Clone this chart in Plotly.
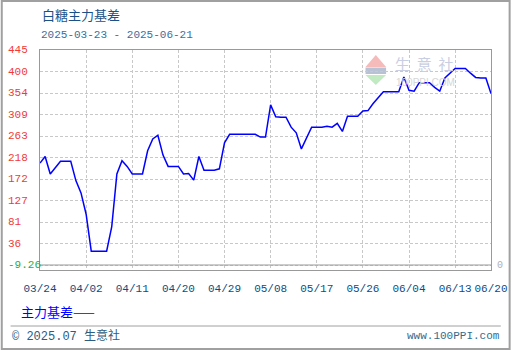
import plotly.graph_objects as go
import pandas as pd

# ---------------- data ----------------
title_text = "白糖主力基差"
range_text = "2025-03-23 - 2025-06-21"
start_date = "2025-03-24"
end_date = "2025-06-20"
basis = [206, 220, 183, 196, 210, 210, 210, 169, 143, 98,
         20, 20, 20, 20, 72, 183, 211, 199, 183, 183,
         183, 232, 257, 265, 223, 199, 199, 199, 183, 184,
         170, 220, 191, 191, 191, 194, 249, 267, 267, 267,
         267, 267, 267, 261, 261, 329, 304, 303, 303, 282,
         270, 236, 258, 282, 282, 282, 284, 282, 290, 273,
         305, 305, 305, 316, 317, 332, 345, 357, 357, 357,
         357, 388, 360, 358, 376, 376, 376, 366, 358, 386,
         395, 406, 406, 406, 396, 387, 386, 386, 353]
x_tick_dates = ["2025-03-24", "2025-04-02", "2025-04-11", "2025-04-20", "2025-04-29",
                "2025-05-08", "2025-05-17", "2025-05-26", "2025-06-04", "2025-06-13",
                "2025-06-20"]
x_tick_labels = ["03/24", "04/02", "04/11", "04/20", "04/29", "05/08", "05/17",
                 "05/26", "06/04", "06/13", "06/20"]
y_min = -9.26
y_max = 445.0
y_tick_labels = ["-9.26", "36", "81", "127", "172", "218", "263", "309", "354", "400", "445"]
legend_text = "主力基差——"
footer_left = "© 2025.07 生意社"
footer_right = "www.100PPI.com"
watermark_cn = "生\u00a0\u00a0意\u00a0\u00a0社"
watermark_en = "100PPI.COM"

dates = pd.date_range(start_date, end_date, freq="D")
step = (y_max - y_min) / (len(y_tick_labels) - 1)
y_tick_vals = [y_min + i * step for i in range(len(y_tick_labels))]

# ---------------- layout geometry ----------------
W, H = 520, 350
ML, MR, MT, MB = 40, 20, 50, 80
PW, PH = W - ML - MR, H - MT - MB
px_per_unit = (265 - 50) / (y_max - y_min)
y_lo = y_min - 5 / px_per_unit


def px(x):
    return (x - ML) / PW


def py(y):
    return (H - MB - y) / PH


fig = go.Figure()
fig.add_trace(go.Scatter(x=dates, y=basis, mode="lines",
                         line=dict(color="#0000ff", width=1.5),
                         hoverinfo="skip", showlegend=False))

grid = dict(showgrid=True, gridcolor="#c8c8c8", griddash="3px,2px", gridwidth=1)
fig.update_xaxes(type="date", range=[start_date, end_date], tickvals=x_tick_dates,
                 ticktext=x_tick_labels, ticks="outside", ticklen=8,
                 tickcolor="rgba(0,0,0,0)",
                 tickfont=dict(family="Liberation Mono", size=11, color="#0f4c81"),
                 showline=True, linecolor="#999999", linewidth=1, mirror=True,
                 zeroline=False, **grid)
fig.update_yaxes(range=[y_lo, y_max], tickvals=y_tick_vals, showticklabels=False,
                 showline=True, linecolor="#999999", linewidth=1, mirror=True,
                 zeroline=False, **grid)

ann = []
for v, t in zip(y_tick_vals, y_tick_labels):
    ann.append(dict(x=px(5), y=v, xref="paper", yref="y", text=t, showarrow=False,
                    xanchor="left", yanchor="middle",
                    font=dict(family="Liberation Mono", size=11,
                              color="#33aa33" if t.startswith("-") else "#f03a3a")))
ann.append(dict(x=px(504), y=y_min, xref="paper", yref="y", text="0", showarrow=False,
                xanchor="left", yanchor="middle",
                font=dict(family="Liberation Mono", size=10, color="#b0b0b0")))
ann.append(dict(x=px(40), y=py(15), xref="paper", yref="paper", text=title_text,
                showarrow=False, xanchor="left", yanchor="middle",
                font=dict(family="Noto Sans CJK SC", size=13, color="#1a5288")))
ann.append(dict(x=px(39), y=py(35), xref="paper", yref="paper", text=range_text,
                showarrow=False, xanchor="left", yanchor="middle",
                font=dict(family="Liberation Mono", size=11, color="#3b6e9c")))
ann.append(dict(x=px(19), y=py(311), xref="paper", yref="paper", text=legend_text,
                showarrow=False, xanchor="left", yanchor="middle",
                font=dict(family="Noto Sans CJK SC", size=13, color="#0000ff")))
ann.append(dict(x=px(9), y=py(336), xref="paper", yref="paper", text=footer_left,
                showarrow=False, xanchor="left", yanchor="middle",
                font=dict(family="Liberation Mono, Noto Sans CJK SC", size=12, color="#2b5d80")))
ann.append(dict(x=px(511), y=py(336), xref="paper", yref="paper", text=footer_right,
                showarrow=False, xanchor="right", yanchor="middle",
                font=dict(family="Liberation Mono", size=11, color="#336b8c")))
# watermark text
ann.append(dict(x=px(400), y=py(64), xref="paper", yref="paper", text=watermark_cn,
                showarrow=False, xanchor="left", yanchor="middle",
                font=dict(family="Noto Sans CJK SC", size=15, color="#c9cee2")))
ann.append(dict(x=px(401), y=py(82.5), xref="paper", yref="paper", text=watermark_en,
                showarrow=False, xanchor="left", yanchor="middle",
                font=dict(family="Liberation Sans", size=10, color="#d6d6d6")))

shapes = []
# solid baseline at min value
shapes.append(dict(type="line", xref="paper", yref="y", x0=0, x1=1, y0=y_min, y1=y_min,
                   line=dict(color="#999999", width=1)))
# separator and outer border
shapes.append(dict(type="line", xref="paper", yref="paper", x0=px(10), x1=px(510),
                   y0=py(326), y1=py(326), line=dict(color="#a0a0a0", width=1)))
shapes.append(dict(type="rect", xref="paper", yref="paper", x0=px(1), x1=px(519),
                   y0=py(1), y1=py(349), line=dict(color="#a0a0a0", width=2)))


def path(points):
    return "M " + " L ".join(f"{px(a):.4f},{py(b):.4f}" for a, b in points) + " Z"


shapes.append(dict(type="path", xref="paper", yref="paper", layer="below",
                   path=path([(372, 67), (382.5, 55), (393, 67)]),
                   fillcolor="#f5baba", line=dict(width=0)))
shapes.append(dict(type="rect", xref="paper", yref="paper", layer="below",
                   x0=px(372), x1=px(393), y0=py(67.5), y1=py(74),
                   fillcolor="#b9c2d4", line=dict(width=0)))
shapes.append(dict(type="path", xref="paper", yref="paper", layer="below",
                   path=path([(372, 75), (393, 75), (382.5, 85)]),
                   fillcolor="#c2eac2", line=dict(width=0)))

fig.update_layout(width=W, height=H, margin=dict(l=ML, r=MR, t=MT, b=MB),
                  paper_bgcolor="white", plot_bgcolor="white",
                  annotations=ann, shapes=shapes, showlegend=False)

fig.write_html("out.html")
